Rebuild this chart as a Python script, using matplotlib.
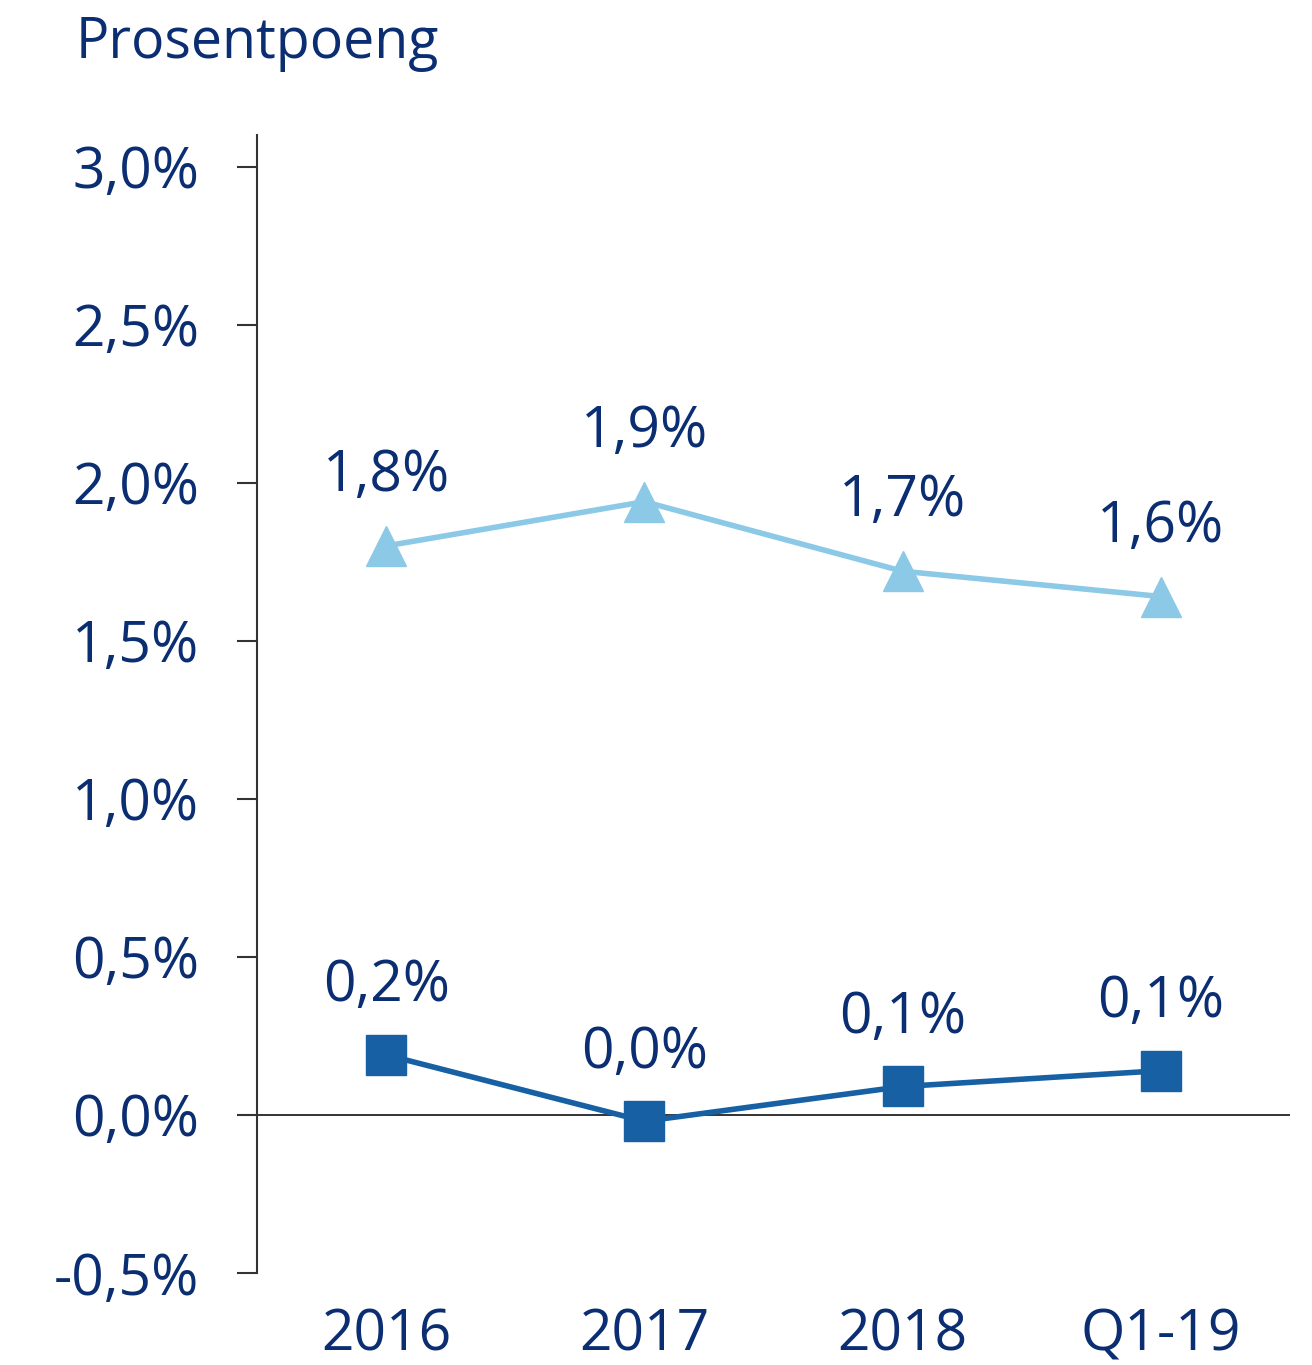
import matplotlib
matplotlib.use("Agg")
import matplotlib.pyplot as plt

categories = ["2016", "2017", "2018", "Q1-19"]
series_a = [1.80, 1.94, 1.72, 1.64]   # light blue triangles
labels_a = ["1,8%", "1,9%", "1,7%", "1,6%"]
series_b = [0.19, -0.02, 0.09, 0.14]  # dark blue squares
labels_b = ["0,2%", "0,0%", "0,1%", "0,1%"]
yticks = [-0.5, 0.0, 0.5, 1.0, 1.5, 2.0, 2.5, 3.0]
ytick_labels = ["-0,5%", "0,0%", "0,5%", "1,0%", "1,5%", "2,0%", "2,5%", "3,0%"]
title = "Prosentpoeng"

navy = "#0B2E72"
light = "#8CC9E6"
dark = "#1660A3"
axis_col = "#333333"

plt.rcParams['font.family'] = ['Open Sans', 'DejaVu Sans']

fig = plt.figure(figsize=(13.12, 13.65), dpi=100)
ax = fig.add_axes([257/1312, 1 - 1273/1365, (1290-257)/1312, (1273-135)/1365])

x = list(range(len(categories)))
ax.plot(x, series_a, color=light, lw=4, marker="^", ms=29, zorder=3)
ax.plot(x, series_b, color=dark, lw=4, marker="s", ms=29, zorder=3)

for xi, v, t in zip(x, series_a, labels_a):
    ax.annotate(t, (xi, v), xytext=(0, 50), textcoords="offset points",
                ha="center", va="center", fontsize=41, color=navy)
for xi, v, t in zip(x, series_b, labels_b):
    ax.annotate(t, (xi, v), xytext=(0, 49), textcoords="offset points",
                ha="center", va="center", fontsize=41, color=navy)

ax.axhline(0, color=axis_col, lw=1.4, zorder=1)

ax.set_xlim(-0.5, 3.5)
ax.set_ylim(-0.5, 3.1)
ax.set_yticks(yticks)
ax.set_yticklabels(ytick_labels)
ax.set_xticks(x)
ax.set_xticklabels(categories)

for s in ["top", "right", "bottom"]:
    ax.spines[s].set_visible(False)
ax.spines["left"].set_color(axis_col)
ax.spines["left"].set_linewidth(1.5)

ax.tick_params(axis="y", length=14.5, width=1.5, color=axis_col, pad=27,
               labelsize=41, labelcolor=navy)
ax.tick_params(axis="x", length=0, pad=25, labelsize=41, labelcolor=navy)

fig.text(76/1312, 1 - 44/1365, title, ha="left", va="center", fontsize=40, color=navy)

fig.savefig("out.png", dpi=100)
